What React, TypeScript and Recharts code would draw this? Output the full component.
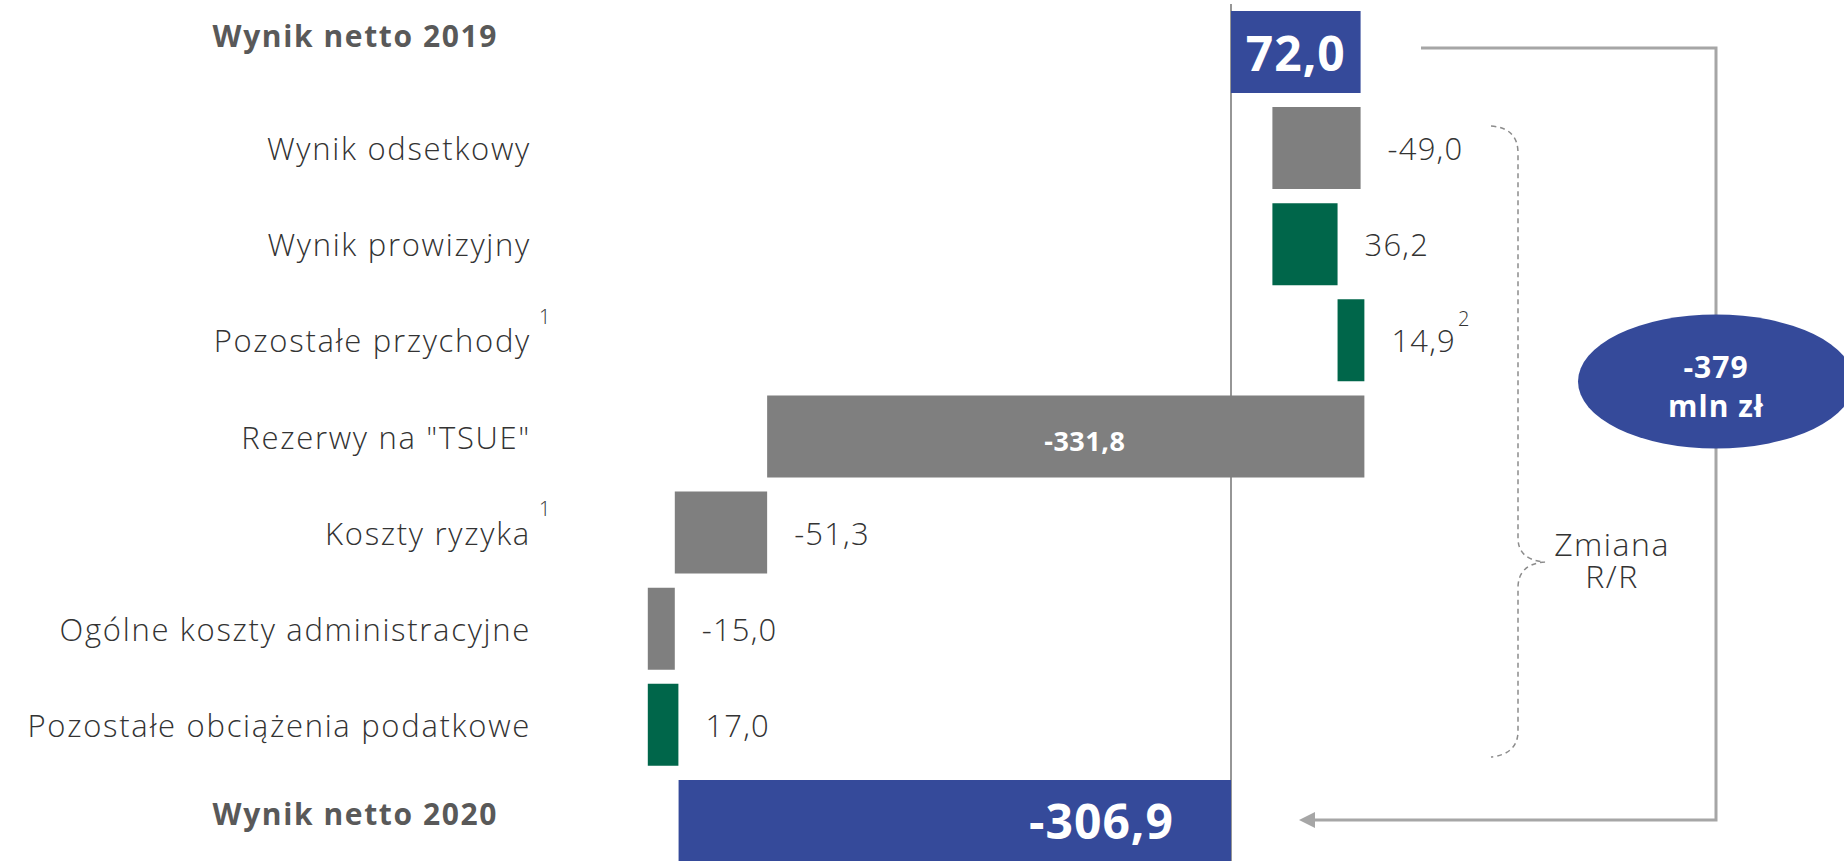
import { BarChart, Bar, XAxis, YAxis, Cell, LabelList, ReferenceLine } from 'recharts';

// Categories top to bottom, values in mln zł
const categories = [
    'Wynik netto 2019',
    'Wynik odsetkowy',
    'Wynik prowizyjny',
    'Pozostałe przychody',
    'Rezerwy na "TSUE"',
    'Koszty ryzyka',
    'Ogólne koszty administracyjne',
    'Pozostałe obciążenia podatkowe',
    'Wynik netto 2020',
];
const values = [72.0, -49.0, 36.2, 14.9, -331.8, -51.3, -15.0, 17.0, -306.9];
const kinds = ['total', 'change', 'change', 'change', 'change', 'change', 'change', 'change', 'total'];
const categoryNotes = ['', '', '', '1', '', '1', '', '', ''];
const valueNotes = ['', '', '', '2', '', '', '', '', ''];

const BLUE = '#354A9A';
const GREEN = '#00664A';
const GREY = '#7F7F7F';
const TEXT = '#333333';
const FONT = '"Open Sans", sans-serif';

const fmt = (v: number) => v.toFixed(1).replace('.', ',');

// waterfall: totals start at zero, changes start where the previous bar ended
function buildRows() {
    let running = 0;
    return categories.map((name, i) => {
        const v = values[i];
        let start = running;
        let end = running + v;
        if (kinds[i] === 'total') {
            start = 0;
            end = v;
        }
        running = end;
        return { id: i, name, range: [Math.min(start, end), Math.max(start, end)] };
    });
}

const rows = buildRows();

const barColor = (i: number) => {
    if (kinds[i] === 'total') return BLUE;
    return values[i] >= 0 ? GREEN : GREY;
};

const CategoryTick = (props: any) => {
    const { x, y, payload } = props;
    const i = categories.indexOf(payload.value);
    if (kinds[i] === 'total') {
        return (
            <text x={x - 33} y={y + (i === 0 ? -17 : -7)} textAnchor="end" dominantBaseline="central"
                fontFamily={FONT} fontSize={30} fontWeight={700} letterSpacing={1.6} fill="#595959">
                {payload.value}
            </text>
        );
    }
    return (
        <g>
            <text x={x} y={y} textAnchor="end" dominantBaseline="central"
                fontFamily={FONT} fontSize={31} fontWeight={300} letterSpacing={1.7} fill={TEXT}>
                {payload.value}
            </text>
            {categoryNotes[i] && (
                <text x={x + 8} y={y - 24} dominantBaseline="central"
                    fontFamily={FONT} fontSize={20} fontWeight={300} fill={TEXT}>
                    {categoryNotes[i]}
                </text>
            )}
        </g>
    );
};

const renderValueLabel = (props: any) => {
    const vb = props.viewBox ?? props;
    const x = Number(vb.x ?? props.x);
    const y = Number(vb.y ?? props.y);
    const w = Number(vb.width ?? props.width);
    const h = Number(vb.height ?? props.height);
    const i = Number(props.value);
    const left = Math.min(x, x + w);
    const right = Math.max(x, x + w);
    const cy = y + h / 2;
    const text = fmt(values[i]);

    if (kinds[i] === 'total') {
        const wide = right - left > 300;
        return (
            <text x={wide ? right - 57 : (left + right) / 2} y={cy} textAnchor={wide ? 'end' : 'middle'}
                dominantBaseline="central" fontFamily={FONT} fontSize={48} fontWeight={700}
                letterSpacing={1} fill="#fff">
                {text}
            </text>
        );
    }
    if (Math.abs(values[i]) > 100) {
        return (
            <text x={(left + right) / 2 + 19} y={cy + 4} textAnchor="middle" dominantBaseline="central"
                fontFamily={FONT} fontSize={27} fontWeight={700} letterSpacing={0.5} fill="#fff">
                {text}
            </text>
        );
    }
    return (
        <text x={right + 27} y={cy} dominantBaseline="central"
            fontFamily={FONT} fontSize={31} fontWeight={300} letterSpacing={1.2} fill={TEXT}>
            {text}
            {valueNotes[i] && (
                <tspan dx={2} dy={-22} fontSize={20}>{valueNotes[i]}</tspan>
            )}
        </text>
    );
};

const App = () => {
    return (
        <div style={{ position: 'absolute', left: 0, top: 0, width: 1844, height: 861, overflow: 'hidden', background: '#fff' }}>
            <BarChart
                width={1844}
                height={872}
                data={rows}
                layout="vertical"
                margin={{ top: 4, right: 343, bottom: 3, left: 0 }}
                barSize={82}
            >
                <XAxis type="number" domain={[-370, 150]} allowDataOverflow hide />
                <YAxis
                    type="category"
                    dataKey="name"
                    width={565}
                    interval={0}
                    tickSize={0}
                    tickMargin={34}
                    tickLine={false}
                    axisLine={false}
                    tick={<CategoryTick />}
                />
                <ReferenceLine x={0} stroke="#969696" strokeWidth={2} zIndex={-1} />
                <Bar dataKey="range" isAnimationActive={false}>
                    {rows.map((r) => (
                        <Cell key={r.id} fill={barColor(r.id)} />
                    ))}
                    <LabelList dataKey="id" content={renderValueLabel} />
                </Bar>
            </BarChart>

            <svg width={1844} height={861} style={{ position: 'absolute', left: 0, top: 0, pointerEvents: 'none' }}>
                {/* connector from 2019 result down to 2020 result, broken by the ellipse */}
                <polyline points="1421,48 1716,48 1716,316" fill="none" stroke="#A6A6A6" strokeWidth={3} />
                <polyline points="1716,447 1716,820 1312,820" fill="none" stroke="#A6A6A6" strokeWidth={3} />
                <polygon points="1299,820 1315,812 1315,828" fill="#A6A6A6" />
                {/* brace around the changes */}
                <path
                    d="M1491,126 Q1518,128 1518,153 L1518,538 Q1518,560 1545,562 Q1518,564 1518,588 L1518,731 Q1518,754 1491,757"
                    fill="none" stroke="#8C8C8C" strokeWidth={1.5} strokeDasharray="5 4"
                />
                <text textAnchor="middle" fontFamily={FONT} fontSize={32} fontWeight={300} letterSpacing={1.5} fill={TEXT}>
                    <tspan x={1612} y={556}>Zmiana</tspan>
                    <tspan x={1612} y={588}>R/R</tspan>
                </text>
                <ellipse cx={1716} cy={381.5} rx={138} ry={67} fill={BLUE} />
                <text textAnchor="middle" fontFamily={FONT} fontSize={30} fontWeight={700} letterSpacing={1} fill="#fff">
                    <tspan x={1716} y={378}>-379</tspan>
                    <tspan x={1716} y={417}>mln zł</tspan>
                </text>
            </svg>
        </div>
    );
};

export default App;
